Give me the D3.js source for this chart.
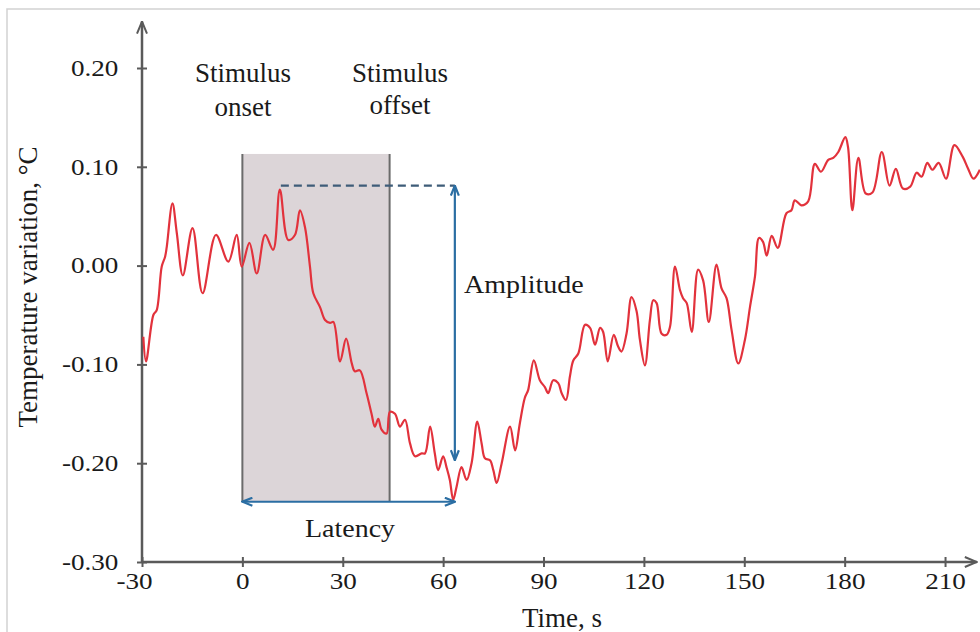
<!DOCTYPE html>
<html>
<head>
<meta charset="utf-8">
<script src="https://cdn.jsdelivr.net/npm/d3@7"></script>
<style>
  html, body { margin: 0; padding: 0; background: #fff; }
  svg { display: block; }
  text { font-family: "Liberation Serif", "Times New Roman", serif; fill: #1a1a1a; }
</style>
</head>
<body>
<script>
// temperature trace (time in s, variation in degC)
const times = [-29.6, -28.8, -26.6, -25.6, -24.1, -23.1, -22.6, -20.9, -19.6, -17.8,
  -14.9, -11.9, -7.9, -4.2, -1.7, -0.2, 2.1, 4.3, 6.8, 9.2,
  11.2, 13.7, 15.7, 17.2, 18.7, 20.2, 21.2, 23.2, 24.7, 26.2,
  27.2, 29.2, 31.0, 32.7, 33.6, 35.1, 37.1, 38.6, 39.6, 40.6,
  41.6, 43.1, 44.1, 45.6, 47.1, 48.6, 50.1, 51.6, 53.6, 54.6,
  56.1, 57.5, 58.5, 60.0, 61.0, 62.0, 63.0, 64.0, 65.5, 67.0,
  68.5, 70.2, 71.5, 72.5, 74.0, 75.0, 76.0, 77.5, 80.0, 81.5,
  82.9, 84.4, 85.4, 87.1, 88.9, 90.4, 91.4, 92.9, 94.4, 95.4,
  96.7, 97.9, 98.9, 100.4, 102.4, 103.9, 105.4, 106.9, 107.8, 109.2,
  111.0, 112.3, 113.3, 114.8, 116.3, 117.8, 118.8, 120.3, 121.8, 122.8,
  123.8, 125.3, 126.8, 127.8, 129.3, 130.8, 131.7, 132.8, 134.3, 136.2,
  137.7, 139.4, 141.7, 143.2, 144.7, 146.2, 148.2, 150.2, 151.7, 153.2,
  154.4, 155.6, 156.7, 158.2, 160.0, 162.6, 164.1, 165.1, 167.1, 169.1,
  171.1, 172.9, 175.1, 176.6, 178.1, 180.2, 181.0, 182.3, 184.1, 186.3,
  188.3, 191.1, 193.4, 195.3, 197.4, 199.6, 201.5, 203.0, 204.7, 206.2,
  208.1, 210.3, 212.8, 215.3, 216.9, 218.5, 220.4];
const temps = [-0.072, -0.097, -0.050, -0.045, -0.001, 0.009, 0.019, 0.063, 0.033, -0.010,
  0.038, -0.028, 0.031, 0.004, 0.031, -0.001, 0.023, -0.008, 0.031, 0.016,
  0.077, 0.026, 0.031, 0.056, 0.039, -0.001, -0.028, -0.042, -0.055, -0.058,
  -0.057, -0.097, -0.074, -0.099, -0.107, -0.106, -0.129, -0.150, -0.163, -0.155,
  -0.166, -0.170, -0.148, -0.150, -0.163, -0.156, -0.180, -0.193, -0.190, -0.190,
  -0.163, -0.190, -0.207, -0.193, -0.204, -0.217, -0.237, -0.224, -0.204, -0.217,
  -0.200, -0.158, -0.180, -0.195, -0.197, -0.207, -0.220, -0.200, -0.163, -0.187,
  -0.160, -0.134, -0.126, -0.096, -0.116, -0.123, -0.129, -0.116, -0.119, -0.129,
  -0.136, -0.112, -0.096, -0.089, -0.060, -0.063, -0.080, -0.063, -0.067, -0.097,
  -0.070, -0.082, -0.087, -0.069, -0.032, -0.046, -0.075, -0.101, -0.055, -0.035,
  -0.038, -0.069, -0.070, -0.062, -0.001, -0.025, -0.033, -0.038, -0.067, -0.004,
  -0.015, -0.057, 0.001, -0.023, -0.033, -0.065, -0.099, -0.075, -0.042, -0.011,
  0.028, 0.024, 0.010, 0.030, 0.018, 0.053, 0.056, 0.066, 0.061, 0.065,
  0.103, 0.095, 0.107, 0.109, 0.115, 0.130, 0.120, 0.056, 0.109, 0.073,
  0.074, 0.115, 0.081, 0.098, 0.078, 0.080, 0.094, 0.090, 0.104, 0.097,
  0.104, 0.088, 0.122, 0.110, 0.098, 0.088, 0.097];

const xTicks = [-30, 0, 30, 60, 90, 120, 150, 180, 210];
const yTicks = [-0.30, -0.20, -0.10, 0.00, 0.10, 0.20];

// annotation positions (data units)
const stimOn = 0, stimOff = 44, boxTop = 0.113, boxBottom = -0.239;
const peakT = 11.5, peakV = 0.081;
const latencyT = 63.5, ampBottom = -0.197;

const w = 980, h = 632;
const svg = d3.select("body").append("svg")
  .attr("width", w).attr("height", h);

const x = d3.scaleLinear().domain([-30, 220]).range([142, 978.5]);
const y = d3.scaleLinear().domain([-0.3, 0.2]).range([562, 68]);

// faint frame of the original figure
svg.append("rect")
  .attr("x", 7).attr("y", 9).attr("width", w).attr("height", h)
  .attr("fill", "none").attr("stroke", "#d2d2d2").attr("stroke-width", 1.5);

const defs = svg.append("defs");
defs.append("marker").attr("id", "blueHead")
  .attr("viewBox", "0 0 12 10").attr("refX", 11).attr("refY", 5)
  .attr("markerWidth", 12).attr("markerHeight", 10)
  .attr("markerUnits", "userSpaceOnUse").attr("orient", "auto-start-reverse")
  .append("path").attr("d", "M1,1 L11,5 L1,9")
  .attr("fill", "none").attr("stroke", "#2b6ea3").attr("stroke-width", 2.2);
defs.append("marker").attr("id", "axisHead")
  .attr("viewBox", "0 0 14 12").attr("refX", 13).attr("refY", 6)
  .attr("markerWidth", 14).attr("markerHeight", 12)
  .attr("markerUnits", "userSpaceOnUse").attr("orient", "auto")
  .append("path").attr("d", "M1,1 L13,6 L1,11")
  .attr("fill", "none").attr("stroke", "#5a5a5a").attr("stroke-width", 2);

// stimulus window
svg.append("rect")
  .attr("x", x(stimOn)).attr("y", y(boxTop))
  .attr("width", x(stimOff) - x(stimOn)).attr("height", y(boxBottom) - y(boxTop))
  .attr("fill", "#dcd5d8");
[stimOn, stimOff].forEach(function(t) {
  svg.append("line")
    .attr("x1", x(t)).attr("x2", x(t))
    .attr("y1", y(boxTop)).attr("y2", y(boxBottom))
    .attr("stroke", "#6b6b6b").attr("stroke-width", 2);
});

// axes
svg.append("line")
  .attr("x1", x(-30)).attr("x2", x(-30)).attr("y1", y(-0.3)).attr("y2", y(0.247))
  .attr("stroke", "#5a5a5a").attr("stroke-width", 2.5).attr("marker-end", "url(#axisHead)");
svg.append("line")
  .attr("x1", x(-30)).attr("x2", x(219.5)).attr("y1", y(-0.3)).attr("y2", y(-0.3))
  .attr("stroke", "#5a5a5a").attr("stroke-width", 2.5).attr("marker-end", "url(#axisHead)");

const yAxis = svg.append("g")
  .attr("transform", "translate(" + x(-30) + ",0)")
  .call(d3.axisLeft(y).tickValues(yTicks).tickSize(5).tickPadding(15)
    .tickFormat(function(d) { return d.toFixed(2); }));
const xAxis = svg.append("g")
  .attr("transform", "translate(0," + y(-0.3) + ")")
  .call(d3.axisBottom(x).tickValues(xTicks).tickSize(5).tickPadding(6)
    .tickFormat(function(d) { return String(d); }));

[yAxis, xAxis].forEach(function(g) {
  g.select(".domain").remove();
  g.selectAll(".tick line").attr("stroke", "#5a5a5a").attr("stroke-width", 2);
  g.selectAll(".tick text")
    .attr("font-family", "Liberation Serif, serif")
    .attr("font-size", 23).attr("fill", "#1a1a1a");
});
yAxis.selectAll(".tick line").attr("x1", 5);
yAxis.selectAll(".tick text").attr("transform", "scale(1.18,1)");
xAxis.selectAll(".tick line").attr("y1", -5);
xAxis.selectAll(".tick text")
  .attr("transform", function(d) { return d < 0 ? "translate(-8,0) scale(1.18,1)" : "scale(1.18,1)"; });

// temperature trace
const line = d3.line()
  .x(function(d, i) { return x(times[i]); })
  .y(function(d) { return y(d); })
  .curve(d3.curveCatmullRom.alpha(0.5));
svg.append("path")
  .datum(temps)
  .attr("d", line)
  .attr("fill", "none")
  .attr("stroke", "#e2323c")
  .attr("stroke-width", 2.2)
  .attr("stroke-linejoin", "round");

// amplitude & latency
svg.append("line")
  .attr("x1", x(peakT)).attr("x2", x(latencyT))
  .attr("y1", y(peakV)).attr("y2", y(peakV))
  .attr("stroke", "#3e5c78").attr("stroke-width", 2.2).attr("stroke-dasharray", "8,5");
svg.append("line")
  .attr("x1", x(latencyT)).attr("x2", x(latencyT))
  .attr("y1", y(ampBottom)).attr("y2", y(peakV))
  .attr("stroke", "#2b6ea3").attr("stroke-width", 2.2)
  .attr("marker-start", "url(#blueHead)").attr("marker-end", "url(#blueHead)");
svg.append("line")
  .attr("x1", x(stimOn)).attr("x2", x(latencyT))
  .attr("y1", y(boxBottom)).attr("y2", y(boxBottom))
  .attr("stroke", "#2b6ea3").attr("stroke-width", 2.2)
  .attr("marker-start", "url(#blueHead)").attr("marker-end", "url(#blueHead)");

// labels
function label(px, py, str, size, anchor, sx) {
  svg.append("text")
    .attr("transform", "translate(" + px + "," + py + ") scale(" + (sx || 1) + ",1)")
    .attr("text-anchor", anchor || "start")
    .attr("font-size", size)
    .text(str);
}
label(243, 82, "Stimulus", 27, "middle");
label(243, 116, "onset", 27, "middle");
label(400, 82, "Stimulus", 27, "middle");
label(400, 114, "offset", 27, "middle");
label(464, 293, "Amplitude", 25, "start", 1.12);
label(350, 537, "Latency", 25, "middle", 1.12);
label(562, 627, "Time, s", 27, "middle");

svg.append("text")
  .attr("transform", "translate(37,287) rotate(-90)")
  .attr("text-anchor", "middle")
  .attr("font-size", 27)
  .text("Temperature variation, °C");
</script>
</body>
</html>
